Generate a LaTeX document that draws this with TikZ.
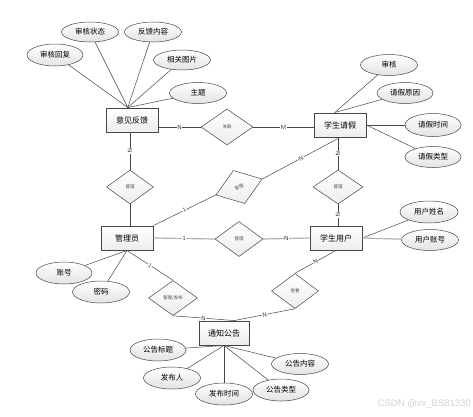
\documentclass[tikz,border=0pt]{standalone}
\usepackage{fontspec}
\newfontfamily\cjk{Noto Sans CJK SC}
\newfontfamily\wmfont{Liberation Sans}
\usetikzlibrary{shapes.geometric,calc}
\begin{document}
\begin{tikzpicture}[x=1pt,y=-1pt,
 ent/.style={rectangle, draw=gray!55!black, line width=0.9pt, top color=white, bottom color=gray!14, minimum width=52pt, minimum height=24pt, inner sep=0pt, font=\cjk\fontsize{8}{8}\selectfont},
 attr/.style={ellipse, draw=gray!55!black, line width=0.5pt, top color=white, bottom color=gray!22, minimum width=57pt, minimum height=21pt, inner sep=0pt, font=\cjk\fontsize{7.5}{8}\selectfont},
 rel/.style={diamond, draw=gray!55!black, line width=0.5pt, top color=white, bottom color=gray!14, minimum width=48pt, minimum height=35pt, inner sep=0pt, font=\cjk\fontsize{4.5}{5}\selectfont, text=gray!60!black},
 ln/.style={draw=gray!55!black, line width=0.5pt},
 thk/.style={draw=gray!60, line width=1.2pt},
 card/.style={fill=white, inner sep=0.4pt, font=\sffamily\fontsize{6}{6}\selectfont, text=gray!40!black}
]
\useasboundingbox (0,0) rectangle (473,416);
\fill[white] (0,0) rectangle (473,416);

% entities
\node[ent] (fb) at (132,120) {意见反馈};
\node[ent] (qj) at (340,125) {学生请假};
\node[ent] (gly) at (127,238) {管理员};
\node[ent] (xs) at (336,238) {学生用户};
\node[ent, minimum width=50pt] (tz) at (224,333) {通知公告};

% relationships
\node[rel, minimum width=52pt, minimum height=36pt] (gl0) at (227,127) {关联};
\node[rel, minimum width=47pt, minimum height=34pt] (gl1) at (130,187) {管理};
\node[rel, minimum width=49pt, minimum height=35pt, rotate=19] (gl2) at (239,187) {管理};
\node[rel, minimum width=50pt, minimum height=34pt] (gl3) at (338,187) {管理};
\node[rel] (gl4) at (239,239) {管理};
\node[rel, minimum width=49pt] (gl5) at (173,298) {管理/发布};
\node[rel, minimum width=47pt] (gl6) at (295,291) {查看};

% attributes of 意见反馈
\node[attr, minimum width=56pt, minimum height=22pt] (a1) at (55,55) {审核回复};
\node[attr, minimum height=20pt] (a2) at (90,32) {审核状态};
\node[attr, minimum height=20pt] (a3) at (153,32) {反馈内容};
\node[attr, minimum height=20pt] (a4) at (182,60) {相关图片};
\node[attr] (a5) at (198,93) {主题};
% attributes of 学生请假
\node[attr] (b1) at (389,65) {审核};
\node[attr, minimum width=56pt] (b2) at (405,93) {请假原因};
\node[attr, minimum width=56pt, minimum height=23pt] (b3) at (433,125) {请假时间};
\node[attr, minimum width=56pt] (b4) at (433,157) {请假类型};
% attributes of 学生用户
\node[attr, minimum width=58pt, minimum height=22pt] (c1) at (429,212) {用户姓名};
\node[attr, minimum height=21pt] (c2) at (430,240) {用户账号};
% attributes of 管理员
\node[attr, minimum width=56pt, minimum height=22pt] (d1) at (64,273) {账号};
\node[attr, minimum height=22pt] (d2) at (101,292) {密码};
% attributes of 通知公告
\node[attr, minimum width=56pt, minimum height=22pt] (e1) at (158,350) {公告标题};
\node[attr, minimum height=22pt] (e2) at (172,378) {发布人};
\node[attr, minimum height=22pt] (e3) at (224,394) {发布时间};
\node[attr] (e4) at (300,364) {公告内容};
\node[attr, minimum width=56pt, minimum height=22pt] (e5) at (281,390) {公告类型};

\coordinate (fbT) at ($(fb.north west)!0.42!(fb.north east)$);
\coordinate (qjT) at ($(qj.north west)!0.4!(qj.north east)$);
\coordinate (tzA) at ($(tz.north west)!0.7!(tz.north east)$);

% attribute links
\foreach \a in {a1,a2,a3,a4,a5} \draw[ln] (\a) -- (fbT);
\draw[ln] (b1) -- (qjT);
\draw[ln] (b2) -- (qjT);
\draw[ln] (qj.east) -- (b3);
\draw[ln] (qj.east) -- (b4);
\draw[ln] (xs.east) -- (c1);
\draw[thk] (xs.east) -- (c2);
\draw[ln] (gly.south) -- (d1);
\draw[ln] (gly.south) -- (d2);
\foreach \e in {e1,e2,e3,e4,e5} \draw[ln] (tz.south) -- (\e);

% relationship links
\draw[ln] (gl0.west -| fb.east) -- node[card]{N} (gl0.west);
\draw[ln] (gl0.east) -- node[card]{M} (gl0.east -| qj.west);
\draw[ln] (gl1.north |- fb.south) -- node[card, sloped]{N} (gl1.north);
\draw[ln] (gl1.south) -- (gl1.south |- gly.north);
\draw[ln] (gly.north east) -- node[card, sloped]{1} (gl2.west);
\draw[ln] (gl2.east) -- node[card, sloped]{N} (qj.south);
\draw[ln] (gl3.north |- qj.south) -- node[card, sloped]{N} (gl3.north);
\draw[ln] (gl3.south) -- node[card, sloped]{N} (gl3.south |- xs.north);
\draw[thk] (gly.east) -- node[card]{1} (gl4.west);
\draw[thk] (gl4.east) -- node[card]{N} (xs.west);
\draw[ln] (gly.south) -- node[card, sloped]{1} (gl5.north);
\draw[ln] (gl5.south) -- node[card, sloped]{N} (tzA);
\draw[ln] (gl6.north) -- node[card, sloped]{N} (xs.south);
\draw[ln] (gl6.south) -- node[card, sloped]{N} (tzA);

\node[anchor=east, inner sep=0pt, text=gray!35, font=\wmfont\fontsize{9.5}{10}\selectfont] (wm) at (471,404) {CSDN @vx\_BS81330};
\end{tikzpicture}
\end{document}
